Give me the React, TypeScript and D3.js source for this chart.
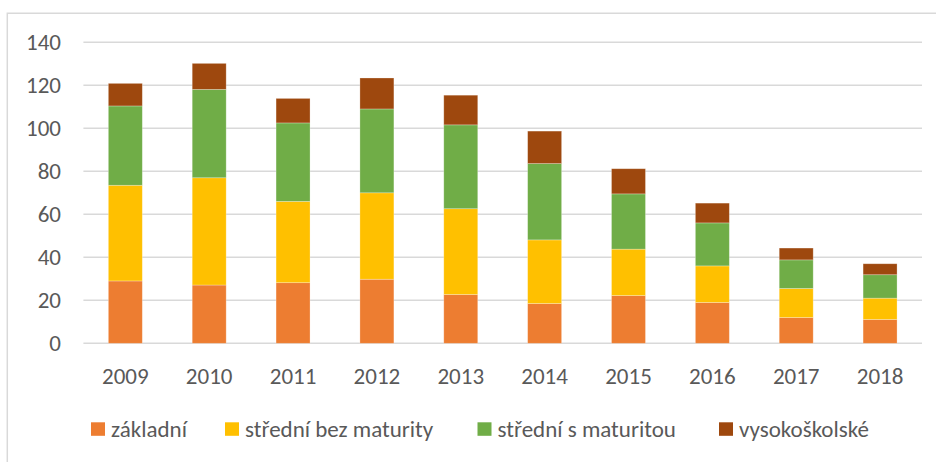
import React from "react";
import * as d3 from "d3";

const years = ["2009", "2010", "2011", "2012", "2013", "2014", "2015", "2016", "2017", "2018"];
const seriesNames = ["základní", "střední bez maturity", "střední s maturitou", "vysokoškolské"];
const zakladni = [29.0, 27.1, 28.2, 29.8, 22.7, 18.5, 22.2, 19.0, 12.0, 11.1];
const stredniBez = [44.5, 49.9, 37.8, 40.2, 39.9, 29.6, 21.6, 17.0, 13.5, 9.9];
const stredniS = [36.9, 41.1, 36.5, 39.0, 39.0, 35.5, 25.7, 20.0, 13.3, 10.9];
const vysoko = [10.5, 12.1, 11.4, 14.4, 13.8, 15.1, 11.7, 9.2, 5.5, 5.1];
const yTicks = [0, 20, 40, 60, 80, 100, 120, 140];
const colors = ["#ED7D31", "#FFC000", "#70AD47", "#9E480E"];

const W = 936;
const H = 462;
const FONT = "Carlito, Calibri, 'Open Sans', Lato, sans-serif";
const TEXT = "#595959";
const FS = 23;

export default function App() {
  const x = d3.scaleBand<string>().domain(years).range([83.4, 922]).paddingInner(0.595).paddingOuter(0.2975);
  const y = d3.scaleLinear().domain([0, 140]).range([343.3, 42.3]);

  const rows = years.map((yr, i) => ({
    year: yr,
    s0: zakladni[i],
    s1: stredniBez[i],
    s2: stredniS[i],
    s3: vysoko[i],
  }));
  const stack = d3.stack<any>().keys(["s0", "s1", "s2", "s3"])(rows);

  const legendX = [91, 225, 477.5, 719];

  return (
    <svg width={W} height={H} style={{ position: "absolute", left: 0, top: 0, background: "#fff" }}>
      <rect x={0} y={0} width={W} height={H} fill="#fff" />
      <path d={`M7.3,${H + 2} V13.3 H${W + 2}`} fill="none" stroke="#d9d9d9" strokeWidth={1.5} />
      {yTicks.map((t) => (
        <g key={t}>
          <line x1={83.4} x2={922} y1={y(t)} y2={y(t)} stroke="#d9d9d9" strokeWidth={1.5} />
          <text x={61} y={y(t)} dy="0.32em" textAnchor="end" fontFamily={FONT} fontSize={FS} fill={TEXT}>
            {t}
          </text>
        </g>
      ))}
      {stack.map((layer, si) => (
        <g key={si} fill={colors[si]}>
          {layer.map((d, i) => (
            <rect
              key={i}
              x={x(years[i])}
              width={x.bandwidth()}
              y={y(d[1])}
              height={y(d[0]) - y(d[1])}
              stroke="#fff"
              strokeOpacity={0.35}
              strokeWidth={0.75}
            />
          ))}
        </g>
      ))}
      {years.map((yr) => (
        <text
          key={yr}
          x={(x(yr) as number) + x.bandwidth() / 2}
          y={383.5}
          textAnchor="middle"
          fontFamily={FONT}
          fontSize={FS}
          fill={TEXT}
        >
          {yr}
        </text>
      ))}
      {seriesNames.map((name, i) => (
        <g key={name}>
          <rect x={legendX[i]} y={422.3} width={14} height={13.5} fill={colors[i]} />
          <text x={legendX[i] + 20} y={436.5} fontFamily={FONT} fontSize={FS} fill={TEXT}>
            {name}
          </text>
        </g>
      ))}
    </svg>
  );
}
